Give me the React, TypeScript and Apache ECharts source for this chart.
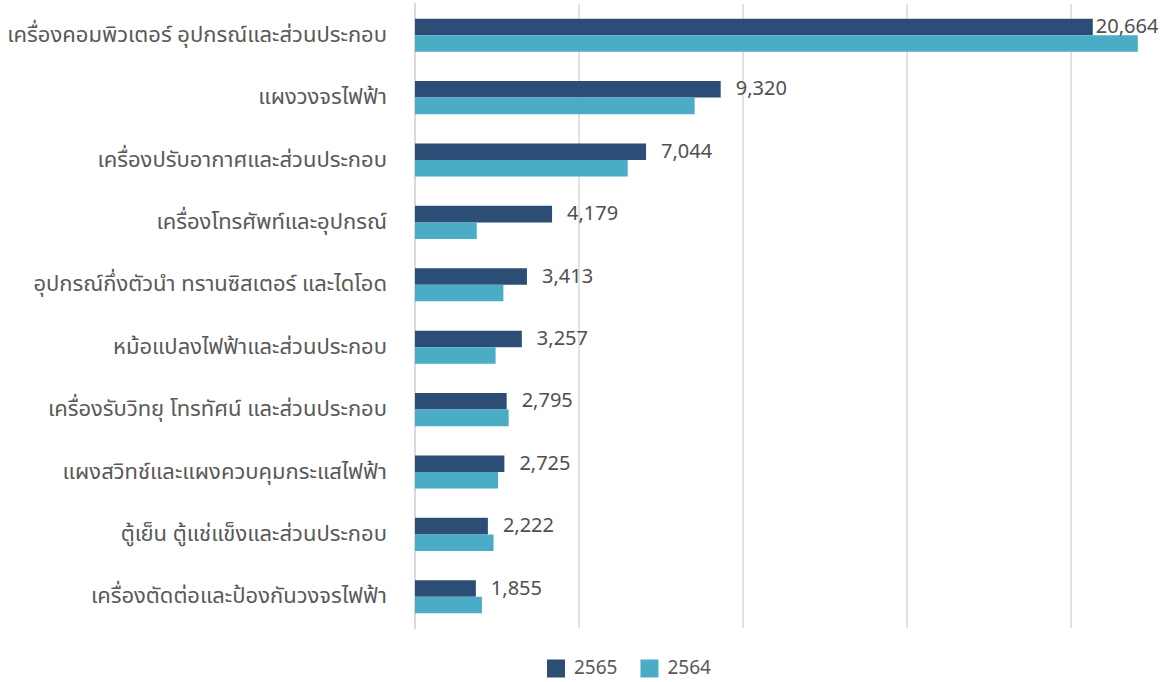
import React, { useEffect, useRef } from "react";
import * as echarts from "echarts";

const categories: string[] = [
  "เครื่องคอมพิวเตอร์ อุปกรณ์และส่วนประกอบ",
  "แผงวงจรไฟฟ้า",
  "เครื่องปรับอากาศและส่วนประกอบ",
  "เครื่องโทรศัพท์และอุปกรณ์",
  "อุปกรณ์กึ่งตัวนำ ทรานซิสเตอร์ และไดโอด",
  "หม้อแปลงไฟฟ้าและส่วนประกอบ",
  "เครื่องรับวิทยุ โทรทัศน์ และส่วนประกอบ",
  "แผงสวิทช์และแผงควบคุมกระแสไฟฟ้า",
  "ตู้เย็น ตู้แช่แข็งและส่วนประกอบ",
  "เครื่องตัดต่อและป้องกันวงจรไฟฟ้า",
];

const values2565: number[] = [20664, 9320, 7044, 4179, 3413, 3257, 2795, 2725, 2222, 1855];
const values2564: number[] = [22037, 8525, 6485, 1883, 2695, 2457, 2856, 2532, 2394, 2040];

const seriesNames: string[] = ["2565", "2564"];

const FONT = "'Noto Sans Thai', 'Leelawadee UI', Tahoma, 'Noto Sans', sans-serif";

export default function App() {
  const ref = useRef<HTMLDivElement>(null);

  useEffect(() => {
    if (!ref.current) return;
    const chart = echarts.init(ref.current, undefined, { renderer: "svg" });
    const data2565 = values2565.map((v, i) =>
      i === 0 ? { value: v, label: { distance: 3 } } : { value: v }
    );
    chart.setOption({
      animation: false,
      textStyle: { fontFamily: FONT },
      color: ["#2C4D75", "#4BACC6"],
      grid: { left: 415, right: 19, top: 4, bottom: 54, containLabel: false },
      legend: {
        data: seriesNames,
        left: 547,
        top: 659,
        padding: 0,
        icon: "rect",
        itemWidth: 18,
        itemHeight: 18,
        itemGap: 23,
        textStyle: {
          color: "#595959",
          fontSize: 19,
          fontFamily: FONT,
          padding: [0, 0, 0, 4],
        },
      },
      xAxis: {
        type: "value",
        min: 0,
        max: 22500,
        interval: 5000,
        axisLabel: { show: false },
        axisLine: { show: false },
        axisTick: { show: false },
        splitLine: {
          show: true,
          showMinLine: false,
          showMaxLine: false,
          lineStyle: { color: "#D9D9D9", width: 1.5 },
        },
      },
      yAxis: {
        type: "category",
        inverse: true,
        data: categories,
        axisLine: { show: true, lineStyle: { color: "#D9D9D9", width: 2 } },
        axisTick: { show: false },
        axisLabel: { color: "#595959", fontSize: 22, margin: 28, fontFamily: FONT },
      },
      series: [
        {
          name: seriesNames[0],
          type: "bar",
          data: data2565,
          barGap: "0%",
          barCategoryGap: "47%",
          label: {
            show: true,
            position: "right",
            distance: 15,
            color: "#505050",
            fontSize: 20,
            fontFamily: FONT,
            formatter: (p: any) => Number(p.value).toLocaleString("en-US"),
          },
        },
        {
          name: seriesNames[1],
          type: "bar",
          data: values2564,
          barGap: "0%",
          barCategoryGap: "47%",
        },
      ],
    });
    return () => chart.dispose();
  }, []);

  return (
    <div
      ref={ref}
      style={{ position: "fixed", left: 0, top: 0, width: 1172, height: 682, background: "#fff" }}
    />
  );
}
